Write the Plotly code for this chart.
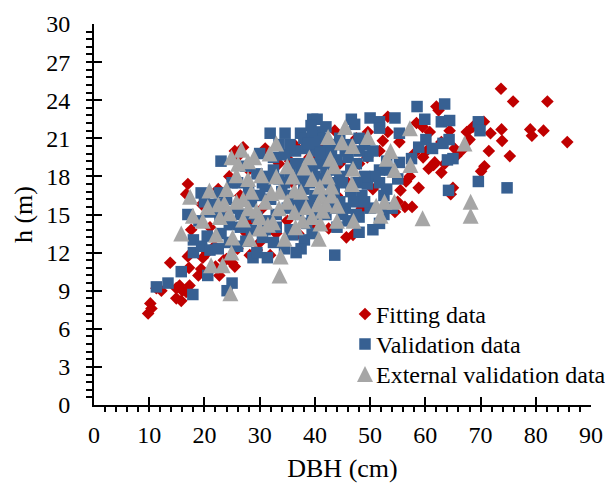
import plotly.graph_objects as go

x_ticks = list(range(0, 91, 10))
y_ticks = list(range(0, 31, 3))

# (DBH cm, height m)
fitting_points = [
(73.7,24.9),(75.9,23.9),(82.1,23.9),(73.8,21.7),(71.8,21.4),(79.0,21.7),(79.3,21.2),(81.4,21.6),(85.7,20.7),
(73.9,20.8),(71.5,20.0),(75.3,19.6),(70.7,18.8),(70.1,18.4),(58.8,17.1),(55.5,16.9),(57.6,15.6),(56.3,15.6),
(65.0,17.1),(64.6,16.6),(62.9,18.3),(62.0,23.5),(62.4,23.2),(53.2,22.7),(70.6,22.3),(68.6,21.9),(68.0,20.9),(57.2,18.0),
(45.7,13.2),(46.9,13.4),(61.7,19.1),(59.6,19.5),(64.4,21.6),(60.8,21.5),(65.3,20.2),(55.3,20.7),(58.4,22.2),
(59.5,21.9),(53.2,21.5),(51.7,20.0),(52.3,20.8),(49.6,21.5),(43.6,21.6),(66.5,20.0),(63.5,19.0),(60.6,18.6),(61.5,18.9),
(56.5,17.6),(55.0,16.0),(54.5,15.2),(48.0,19.0),(50.5,17.0),(58.0,19.8),(62.9,20.7),(65.6,19.6),(67.5,21.5),(60.2,20.0),
(9.8,7.2),(10.2,8.0),(10.4,7.6),(11.3,9.2),(12.2,9.0),(13.8,11.2),(14.9,8.4),(15.8,8.2),(15.5,9.4),(14.9,9.2),(17.3,9.4),
(16.7,8.9),(16.0,9.0),(17.2,10.8),(17.0,11.7),(18.9,10.2),(19.4,10.7),(19.7,11.6),(22.7,10.2),(25.0,11.2),(21.8,12.5),
(28.2,11.8),(31.9,11.8),(24.0,11.5),(22.0,10.9),(25.5,10.9),(29.5,12.2),(17.0,17.4),(16.7,16.6),(17.6,13.8),(27.6,13.5),
(25.5,20.0),(25.9,19.5),(24.5,18.0),(22.5,17.0),(19.5,15.8),(21.0,14.0),(23.5,15.5),(26.5,16.5),(28.5,14.5),(30.5,15.5),
(28.0,18.5),(31.0,20.2),(33.5,19.0),(35.5,19.2),(36.0,17.5),(38.0,16.0),(33.0,13.5),(35.0,14.5),(30.0,12.8),(37.0,13.5),
(40.0,14.0),(42.5,13.9),(44.0,16.5),(48.5,15.5),(46.0,17.5),(39.0,19.5),(41.5,20.5),(47.5,21.0),(44.5,19.0),(49.5,19.5),
(36.5,20.4),(27.0,20.3),(20.5,12.0),(23.5,11.4),(26.0,12.3),
]
validation_points = [
(58.5,23.5),(63.5,23.7),(59.9,22.5),(62.9,22.3),(64.4,22.4),(69.6,22.3),(69.9,21.6),(54.5,22.6),(50.0,22.6),(51.7,22.3),
(51.7,21.8),(46.6,22.5),(47.2,22.1),(39.6,22.5),(40.4,22.5),(60.1,20.9),(64.3,20.9),(63.2,20.6),(61.3,20.2),(58.8,20.3),(65.0,19.4),
(64.0,19.3),(49.6,19.6),(69.6,17.6),(74.8,17.1),(64.2,16.9),(48.0,13.6),(50.5,13.8),(43.6,11.8),(38.1,13.0),(37.5,12.3),
(51.7,14.3),(55.3,21.4),(57.5,19.4),(55.3,19.1),(51.7,18.5),(50.9,18.0),(51.7,17.5),(49.5,17.4),(53.0,19.2),(53.5,18.5),
(11.3,9.3),(13.4,9.6),(15.8,10.5),(17.9,8.7),(18.0,12.0),(20.6,10.2),(24.1,9.0),(25.0,9.6),(28.8,11.6),(31.4,11.6),(36.6,12.0),
(23.0,19.2),(19.4,16.7),(22.7,16.7),(17.0,15.0),(31.9,21.4),(34.6,21.4),(37.4,21.4),(39.3,22.0),(40.8,21.5),(42.0,21.9),
(18.0,13.0),(19.5,12.5),(21.0,12.2),(22.5,12.3),(20.5,13.3),(23.0,13.5),(24.5,12.8),(26.0,12.5),(27.5,12.9),(29.5,12.0),
(19.0,14.5),(21.0,15.2),(22.8,14.8),(24.5,14.2),(26.5,14.0),(28.5,13.8),(30.5,13.2),(32.5,12.8),(34.5,12.3),(36.0,13.4),
(24.0,16.2),(25.8,15.5),(27.5,15.0),(29.5,14.8),(31.5,14.5),(33.0,15.0),(35.0,15.5),(37.0,15.0),(38.5,14.3),(39.5,13.5),
(26.0,17.5),(28.0,17.0),(30.0,16.5),(32.0,16.2),(34.0,16.8),(36.0,16.5),(38.0,17.0),(40.0,16.5),(42.0,15.0),(44.0,14.0),
(27.5,18.8),(29.5,18.2),(31.5,18.0),(33.5,17.8),(35.5,18.2),(37.5,18.5),(39.5,18.2),(41.5,17.5),(43.5,16.8),(45.5,15.5),
(30.0,19.8),(32.5,19.5),(34.5,19.7),(36.5,20.0),(38.5,20.2),(40.5,20.0),(42.5,19.5),(44.5,18.0),(46.5,16.8),(47.5,15.0),
(38.0,21.0),(39.5,21.2),(41.5,21.0),(43.5,20.5),(45.5,20.0),(47.5,19.0),(49.0,18.0),(48.5,16.5),(50.0,15.5),(52.5,15.0),
(37.5,19.0),(39.0,19.0),(41.0,19.0),(43.0,18.5),(45.0,17.5),(46.5,18.5),(47.5,17.5),(49.0,20.5),(50.5,20.0),(52.5,16.5),
(38.5,15.8),(40.5,15.0),(41.0,17.8),(43.0,17.5),(44.5,16.0),(46.0,14.5),(48.0,14.8),(54.0,15.5),(53.0,17.0),(55.0,17.8),
(40.0,20.8),(42.5,20.5),(44.5,21.0),(46.0,20.5),(48.0,21.0),(39.0,17.5),(37.0,17.8),(35.5,20.5),(33.5,20.5),(31.0,17.2),
(36.5,19.0),(38.0,18.0),(40.0,18.0),(42.0,18.3),(44.0,19.3),(46.0,19.5),(48.0,20.0),(38.8,20.6),(41.0,19.8),(43.0,19.8),
(37.5,16.0),(39.5,16.0),(41.5,16.3),(43.0,15.5),(45.0,15.0),(47.0,16.0),(49.0,16.0),(39.5,15.0),(36.5,15.8),(34.5,17.5),
(32.5,18.5),(30.5,17.5),(28.5,16.0),(26.5,15.0),(33.0,14.0),(35.5,13.8),(31.0,13.8),(22.0,15.8),(20.0,16.0),(25.0,17.5),
]
external_points = [
(57.2,21.8),(67.1,20.6),(68.2,16.0),(68.2,14.9),(59.5,14.7),(45.5,21.9),(42.4,21.1),(44.9,20.7),(46.8,20.4),(49.6,21.1),
(53.7,20.0),(53.0,19.4),(54.4,18.5),(57.3,18.9),(46.9,18.6),(46.7,17.4),(42.8,19.4),(42.3,18.0),(40.9,17.2),(41.2,16.4),
(44.1,15.7),(41.4,15.3),(38.4,15.6),(51.1,15.7),(52.6,16.0),(54.4,16.0),(51.9,14.9),(47.0,14.5),(44.0,14.5),(41.0,14.3),
(40.7,13.1),(37.8,14.5),(38.1,18.7),(24.7,8.8),(33.6,10.2),(33.8,11.7),(24.9,12.0),(21.2,11.0),(23.3,11.0),
(26.7,20.1),(24.9,19.5),(27.9,19.2),(26.1,19.0),(33.0,20.6),(31.8,19.8),(20.9,16.9),(17.4,16.4),(20.6,15.6),(23.6,15.9),
(25.8,16.0),(27.9,17.8),(25.8,18.1),(30.3,18.1),(28.5,16.8),(33.6,16.8),(32.1,16.7),(36.3,16.9),(24.5,15.1),(29.4,15.3),
(17.9,14.9),(19.7,14.5),(36.3,15.2),(32.4,14.4),(30.0,13.9),(22.1,13.4),(25.1,13.2),(15.8,13.5),(34.5,13.1),(28.2,13.1),
(33.0,18.0),(31.0,16.0),(35.0,16.0),(37.5,16.8),(36.0,18.0),(39.0,19.5),(30.0,14.8),(27.0,14.6),(33.5,15.5),(29.0,19.5),
(42.0,15.8),(43.0,16.5),(39.5,14.8),(40.5,15.8),(36.5,14.0),(22.8,14.8),(27.0,16.2),(31.5,14.2),
(43.5,18.8),(43.0,17.2),(39.5,17.8),(35.0,18.8),(24.0,17.0),(22.5,15.8),(28.0,15.5),
]

fx, fy = zip(*fitting_points)
vx, vy = zip(*validation_points)
ex, ey = zip(*external_points)

FONT = "Liberation Serif"
fig = go.Figure()
fig.add_trace(go.Scatter(x=fx, y=fy, mode="markers", name="Fitting data",
    marker=dict(symbol="diamond", size=9.7, color="#C00000", line_width=0)))
fig.add_trace(go.Scatter(x=vx, y=vy, mode="markers", name="Validation data",
    marker=dict(symbol="square", size=11.5, color="#376092", line_width=0)))
fig.add_trace(go.Scatter(x=ex, y=ey, mode="markers", name="External validation data",
    marker=dict(symbol="triangle-up", size=16, color="#A6A6A6", line_width=0)))

axis = dict(showgrid=False, zeroline=False, showline=True, linecolor="black", linewidth=2,
            automargin=False,
            ticks="inside", ticklen=8, tickwidth=1.5, tickcolor="black",
            tickfont=dict(family=FONT, size=24, color="black"))
fig.update_layout(
    width=605, height=486, margin=dict(l=94, r=14, t=24, b=81),
    paper_bgcolor="white", plot_bgcolor="white",
    font=dict(family=FONT, color="black"),
    xaxis=dict(axis, range=[0, 90], tickvals=x_ticks, ticklabelstandoff=7,
               minor=dict(ticks="outside", dtick=2, ticklen=5, tickwidth=1.5, tickcolor="black"),
               title=dict(text="DBH (cm)", font=dict(family=FONT, size=26), standoff=12)),
    yaxis=dict(axis, range=[0, 30], tickvals=y_ticks, ticklabelstandoff=17,
               minor=dict(ticks="outside", dtick=0.6, ticklen=6, tickwidth=1.5, tickcolor="black"),
               title=dict(text="h (m)", font=dict(family=FONT, size=26), standoff=6)),
    legend=dict(x=1, y=0, xanchor="right", yanchor="bottom", bgcolor="rgba(0,0,0,0)",
                font=dict(family=FONT, size=24), borderwidth=0, itemwidth=30, tracegroupgap=0),
)
post = """
document.body.style.margin='0';
document.querySelectorAll('.legend').forEach(function(l){
  l.setAttribute('transform','translate(336,294)');
  l.style.clipPath='none'; l.removeAttribute('clip-path');
});
document.querySelectorAll('.legend .scrollbox').forEach(function(g){g.removeAttribute('clip-path');g.style.clipPath='none';});
document.querySelectorAll('.legend .traces').forEach(function(g,i){
  g.setAttribute('transform','translate(0,'+(20+i*30)+')');
  var s=g.querySelector('.legendsymbols'); if(s){s.setAttribute('transform','translate(9,0)');}
});
var tri = 'path[style*="166, 166, 166"]';
document.querySelectorAll('.scatterlayer .trace .points path, .legend .legendpoints path').forEach(function(p){
  if(p.style.fill.indexOf('166, 166, 166')>=0){
    var t=p.getAttribute('transform')||'';
    p.setAttribute('transform', t+' translate(0,2.7) scale(0.865,1.33)');
  }
});
"""
fig.write_html("out.html", post_script=post, config={"displayModeBar": False})
